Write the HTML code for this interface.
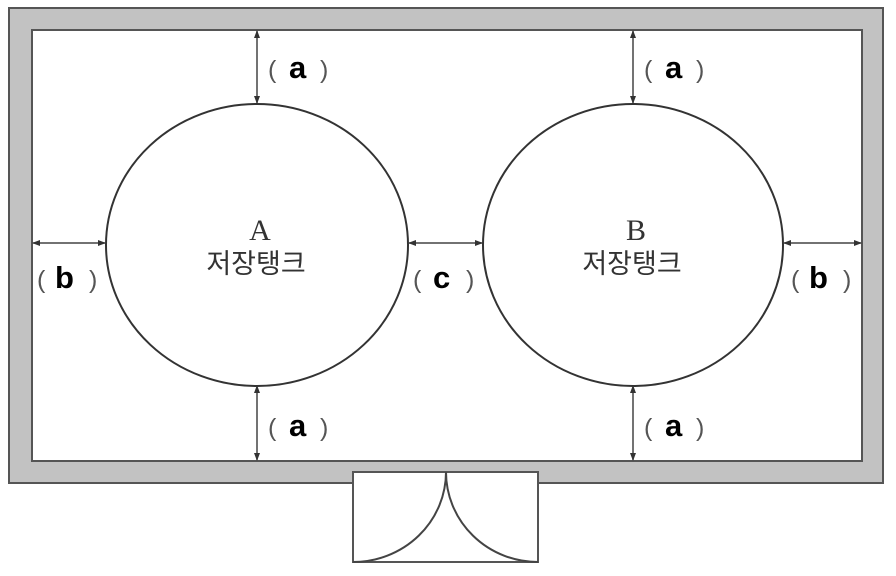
<!DOCTYPE html>
<html><head><meta charset="utf-8"><style>body{margin:0;background:#fff}</style></head><body>
<svg width="896" height="571" viewBox="0 0 896 571" xmlns="http://www.w3.org/2000/svg">
<defs><marker id="ar" markerWidth="8" markerHeight="6" refX="7" refY="3" orient="auto-start-reverse" markerUnits="userSpaceOnUse"><path d="M0,0 L8,3 L0,6 z" fill="#333"/></marker></defs>
<rect x="9" y="8" width="874" height="475" fill="#c2c2c2" stroke="#555" stroke-width="2"/>
<rect x="32" y="30" width="830" height="431" fill="#fff" stroke="#555" stroke-width="2"/>
<rect x="353" y="472" width="185" height="90" fill="#fff" stroke="#555" stroke-width="2"/>
<path d="M446,472 A93,90 0 0 1 353,562 M446,472 A92,90 0 0 0 538,562" fill="none" stroke="#444" stroke-width="2"/>
<ellipse cx="257" cy="245" rx="151" ry="141" fill="#fff" stroke="#333" stroke-width="2"/>
<ellipse cx="633" cy="245" rx="150" ry="141" fill="#fff" stroke="#333" stroke-width="2"/>
<g stroke="#444" stroke-width="1.5" marker-start="url(#ar)" marker-end="url(#ar)">
<line x1="257" y1="31" x2="257" y2="103"/><line x1="257" y1="386" x2="257" y2="460"/>
<line x1="633" y1="31" x2="633" y2="103"/><line x1="633" y1="386" x2="633" y2="460"/>
<line x1="33" y1="243" x2="105" y2="243"/><line x1="409" y1="243" x2="482" y2="243"/><line x1="784" y1="243" x2="861" y2="243"/>
</g>
<g font-family="Liberation Sans, sans-serif" fill="#000">
<g font-size="31"><text x="268" y="78" fill="#555" font-size="25">(</text><text x="289" y="78" font-weight="bold">a</text><text x="320" y="78" fill="#555" font-size="25">)</text></g>
<g font-size="31"><text x="268" y="436" fill="#555" font-size="25">(</text><text x="289" y="436" font-weight="bold">a</text><text x="320" y="436" fill="#555" font-size="25">)</text></g>
<g font-size="31"><text x="644" y="78" fill="#555" font-size="25">(</text><text x="665" y="78" font-weight="bold">a</text><text x="696" y="78" fill="#555" font-size="25">)</text></g>
<g font-size="31"><text x="644" y="436" fill="#555" font-size="25">(</text><text x="665" y="436" font-weight="bold">a</text><text x="696" y="436" fill="#555" font-size="25">)</text></g>
<g font-size="31"><text x="37" y="288" fill="#555" font-size="25">(</text><text x="55" y="288" font-weight="bold">b</text><text x="89" y="288" fill="#555" font-size="25">)</text></g>
<g font-size="31"><text x="413" y="288" fill="#555" font-size="25">(</text><text x="433" y="288" font-weight="bold">c</text><text x="466" y="288" fill="#555" font-size="25">)</text></g>
<g font-size="31"><text x="791" y="288" fill="#555" font-size="25">(</text><text x="809" y="288" font-weight="bold">b</text><text x="843" y="288" fill="#555" font-size="25">)</text></g>
</g>
<g fill="#333" text-anchor="middle">
<text x="260" y="240" font-family="Liberation Serif, serif" font-size="30">A</text>
<text x="256" y="273" font-family="Liberation Sans, 'Noto Sans CJK KR', sans-serif" font-size="27">저장탱크</text>
<text x="636" y="240" font-family="Liberation Serif, serif" font-size="30">B</text>
<text x="632" y="273" font-family="Liberation Sans, 'Noto Sans CJK KR', sans-serif" font-size="27">저장탱크</text>
</g>
</svg>
</body></html>
